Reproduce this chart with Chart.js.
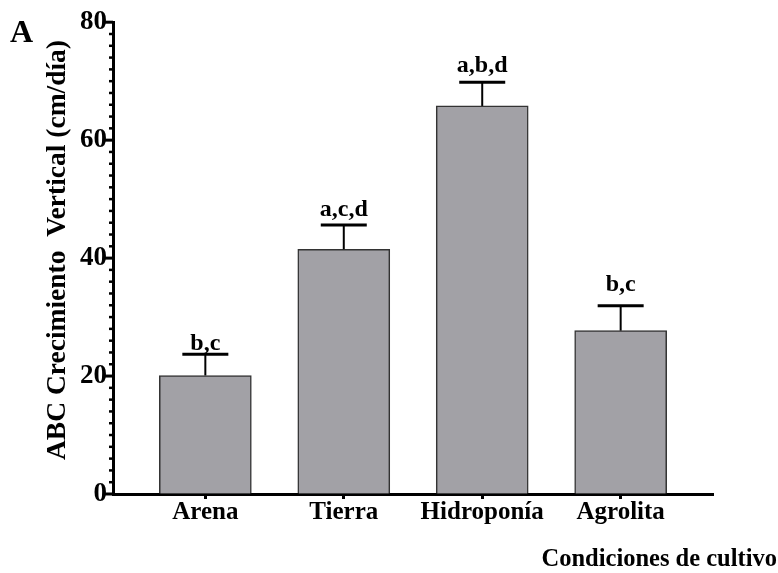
<!DOCTYPE html>
<html>
<head>
<meta charset="utf-8">
<script src="https://cdn.jsdelivr.net/npm/chart.js@4"></script>
<style>
  html, body { margin: 0; padding: 0; background: #fff; }
  #wrap { width: 778px; height: 573px; }
</style>
</head>
<body>
<div id="wrap"><canvas id="abcChart" width="778" height="573"></canvas></div>
<script>
// datos
const categorias = ['Arena', 'Tierra', 'Hidroponía', 'Agrolita'];
const valores = [20.1, 41.5, 65.8, 27.7];
const errorSup = [23.7, 45.6, 69.8, 31.9];
const letras = ['b,c', 'a,c,d', 'a,b,d', 'b,c'];
const letrasNivel = [24.5, 47.1, 71.5, 34.4];   // altura (cm/dia) de la base de cada letra
const yTicks = [0, 20, 40, 60, 80];

const FONT = '"Liberation Serif", "Times New Roman", serif';

// barras de error, letras, ticks menores y textos
const extras = {
    id: 'extras',
    afterDatasetsDraw(chart) {
        const c = chart.ctx;
        const xs = chart.scales.x, ys = chart.scales.y;
        const area = chart.chartArea;
        c.save();
        c.strokeStyle = '#000';
        c.fillStyle = '#000';
        c.textBaseline = 'alphabetic';
        valores.forEach((v, i) => {
            const x = xs.getPixelForValue(i);
            const y0 = ys.getPixelForValue(v);
            const y1 = ys.getPixelForValue(errorSup[i]);
            c.lineWidth = 2;
            c.beginPath();
            c.moveTo(x, y0);
            c.lineTo(x, y1);
            c.stroke();
            c.lineWidth = 3;
            c.beginPath();
            c.moveTo(x - 23, y1);
            c.lineTo(x + 23, y1);
            c.stroke();
            c.font = 'bold 24px ' + FONT;
            c.textAlign = 'center';
            c.fillText(letras[i], x, ys.getPixelForValue(letrasNivel[i]));

            // etiqueta de categoria
            c.font = 'bold 25px ' + FONT;
            c.fillText(categorias[i], x, area.bottom + 25);
        });

        // ticks del eje y
        for (let t = 0; t <= 80; t += 2) {
            const y = ys.getPixelForValue(t);
            const major = t % 20 === 0;
            c.lineWidth = major ? 3 : 2.5;
            c.beginPath();
            c.moveTo(area.left - (major ? 8 : 4), y);
            c.lineTo(area.left, y);
            c.stroke();
        }

        // titulos
        c.font = 'bold 32px ' + FONT;
        c.textAlign = 'left';
        c.fillText('A', 10, 42);

        c.font = 'bold 24.5px ' + FONT;
        c.textAlign = 'right';
        c.fillText('Condiciones de cultivo', 777, 566);

        c.translate(65, 250);
        c.rotate(-Math.PI / 2);
        c.textAlign = 'center';
        c.font = 'bold 27.5px ' + FONT;
        c.fillText('ABC Crecimiento  Vertical (cm/día)', 0, 0);
        c.restore();
    }
};

new Chart(document.getElementById('abcChart'), {
    type: 'bar',
    data: {
        datasets: [{
            data: categorias.map((c, i) => ({ x: i, y: valores[i] })),
            backgroundColor: '#a2a1a6',
            borderColor: '#333',
            borderWidth: 1.5,
            borderSkipped: 'bottom',
            barThickness: 92
        }]
    },
    options: {
        responsive: false,
        animation: false,
        layout: { padding: { top: 17, right: 65, left: 0, bottom: 0 } },
        plugins: {
            legend: { display: false },
            tooltip: { enabled: false }
        },
        scales: {
            x: {
                type: 'linear',
                offset: false,
                min: -0.667,
                max: 3.667,
                afterBuildTicks: (s) => { s.ticks = categorias.map((c, i) => ({ value: i })); },
                afterFit: (s) => { s.height = 79; },
                ticks: { display: false },
                grid: {
                    offset: false,
                    drawOnChartArea: false,
                    tickLength: 5,
                    tickWidth: 3,
                    tickColor: '#000'
                },
                border: { color: '#000', width: 3 }
            },
            y: {
                min: 0,
                max: 80,
                afterBuildTicks: (s) => { s.ticks = yTicks.map(v => ({ value: v })); },
                afterFit: (s) => { s.width = 113; },
                ticks: {
                    color: '#000',
                    font: { family: FONT, size: 27, weight: 'bold' },
                    padding: 6
                },
                grid: { display: true, drawOnChartArea: false, drawTicks: false },
                border: { color: '#000', width: 3 }
            }
        }
    },
    plugins: [extras]
});
</script>
</body>
</html>
